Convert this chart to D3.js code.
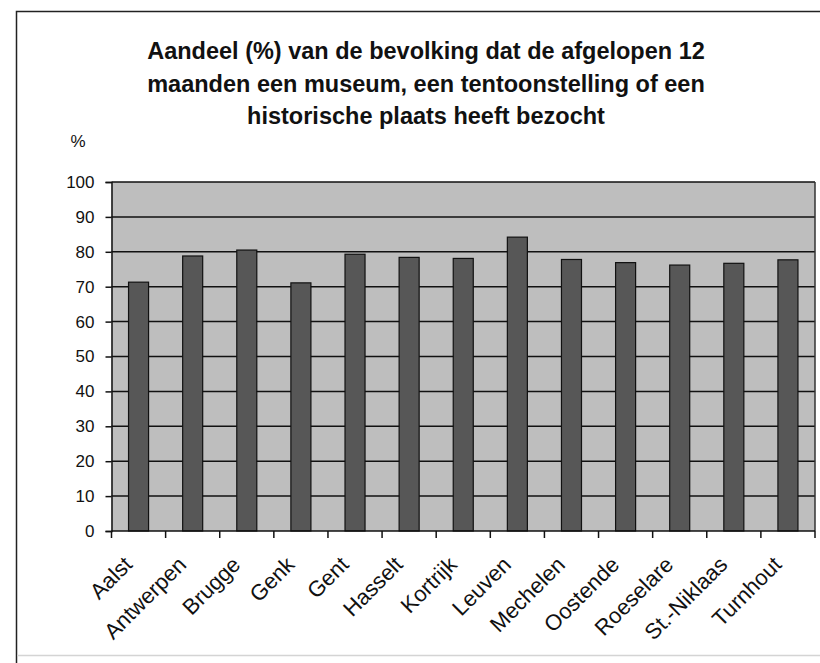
<!DOCTYPE html>
<meta charset="utf-8">
<script src="https://d3js.org/d3.v7.min.js"></script>
<style>
  body { margin: 0; background: #fff; }
  text { font-family: "Liberation Sans", Arial, sans-serif; fill: #111; }
</style>
<svg id="chart" width="820" height="663"></svg>
<script>

// data
var cities = ["Aalst", "Antwerpen", "Brugge", "Genk", "Gent", "Hasselt", "Kortrijk",
              "Leuven", "Mechelen", "Oostende", "Roeselare", "St.-Niklaas", "Turnhout"];
var shares = [71.3, 78.8, 80.5, 71.1, 79.3, 78.4, 78.1, 84.2, 77.8, 76.9, 76.2, 76.7, 77.7];
var yTicks = [0, 10, 20, 30, 40, 50, 60, 70, 80, 90, 100];
var titleLines = ["Aandeel (%) van de bevolking dat de afgelopen 12",
                  "maanden een museum, een tentoonstelling of een",
                  "historische plaats heeft bezocht"];

var svg = d3.select("#chart");

// outer chart frame (runs off the right and bottom edges)
svg.append("path")
  .attr("d", "M16.5,663 V11.5 H820")
  .attr("fill", "none")
  .attr("stroke", "#222")
  .attr("stroke-width", 1.5);
svg.append("line")
  .attr("x1", 17).attr("x2", 820).attr("y1", 655.5).attr("y2", 655.5)
  .attr("stroke", "#d4d4d4").attr("stroke-width", 1.5);

// title
svg.append("g").selectAll("text")
  .data(titleLines)
  .enter().append("text")
    .attr("x", 426)
    .attr("y", function(d, i) { return 59 + i * 32.5; })
    .attr("text-anchor", "middle")
    .style("font-size", "23.5px")
    .style("font-weight", "bold")
    .text(function(d) { return d; });

svg.append("text")
  .attr("x", 78).attr("y", 147)
  .attr("text-anchor", "middle")
  .style("font-size", "17px")
  .text("%");

// plot area
var plotL = 111.5, plotR = 815, plotT = 182, plotB = 531;

var x = d3.scaleBand()
  .domain(cities)
  .range([plotL, plotR])
  .padding(0);

var y = d3.scaleLinear()
  .domain([0, 100])
  .range([plotB, plotT]);

svg.append("rect")
  .attr("x", plotL).attr("y", plotT)
  .attr("width", plotR - plotL).attr("height", plotB - plotT)
  .attr("fill", "#bebebe");

// gridlines
svg.append("g").selectAll("line")
  .data(yTicks.filter(function(d) { return d > 0; }))
  .enter().append("line")
    .attr("x1", plotL).attr("x2", plotR)
    .attr("y1", function(d) { return y(d); })
    .attr("y2", function(d) { return y(d); })
    .attr("stroke", "#111")
    .attr("stroke-width", 1.5);

// right border of plot
svg.append("line")
  .attr("x1", plotR).attr("x2", plotR).attr("y1", plotT).attr("y2", plotB)
  .attr("stroke", "#333").attr("stroke-width", 1.5);

// bars
var barW = x.bandwidth() * 0.37;
svg.append("g").selectAll("rect")
  .data(cities)
  .enter().append("rect")
    .attr("x", function(d) { return x(d) + (x.bandwidth() - barW) / 2; })
    .attr("y", function(d, i) { return y(shares[i]); })
    .attr("width", barW)
    .attr("height", function(d, i) { return plotB - y(shares[i]); })
    .attr("fill", "#575757")
    .attr("stroke", "#111")
    .attr("stroke-width", 1.2);

// y axis
var yAxis = svg.append("g")
  .attr("transform", "translate(" + plotL + ",0)")
  .call(d3.axisLeft(y).tickValues(yTicks).tickSize(6).tickPadding(11));
yAxis.select(".domain").attr("stroke", "#111").attr("stroke-width", 1.5);
yAxis.selectAll(".tick line").attr("stroke", "#111").attr("stroke-width", 1.5);
yAxis.selectAll("text")
  .style("font-size", "17px")
  .style("font-family", "'Liberation Sans', Arial, sans-serif")
  .attr("fill", "#111");

// x axis: ticks on band edges
var edges = cities.map(function(d) { return x(d); }).concat([plotR]);
svg.append("line")
  .attr("x1", plotL).attr("x2", plotR).attr("y1", plotB).attr("y2", plotB)
  .attr("stroke", "#111").attr("stroke-width", 1.5);
svg.append("g").selectAll("line")
  .data(edges)
  .enter().append("line")
    .attr("x1", function(d) { return d; }).attr("x2", function(d) { return d; })
    .attr("y1", plotB).attr("y2", plotB + 7)
    .attr("stroke", "#111").attr("stroke-width", 1.5);

svg.append("g").selectAll("text")
  .data(cities)
  .enter().append("text")
    .attr("transform", function(d) {
      return "translate(" + (x(d) + 22) + "," + (plotB + 35) + ") rotate(-45)";
    })
    .attr("text-anchor", "end")
    .style("font-size", "22px")
    .text(function(d) { return d; });

</script>
